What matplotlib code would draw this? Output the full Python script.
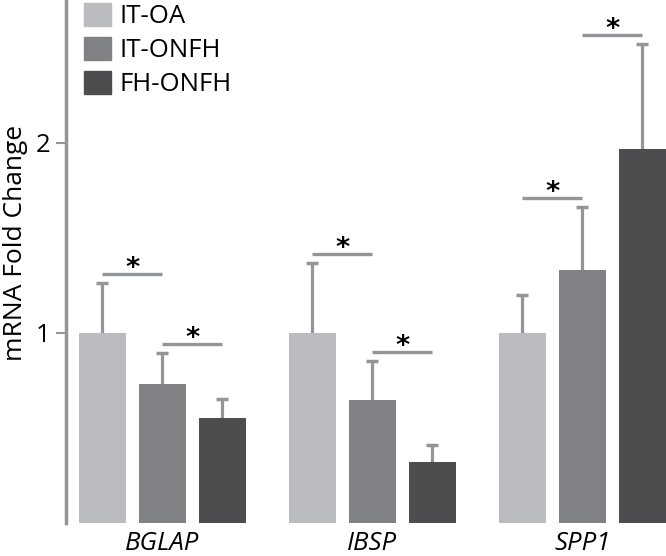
import numpy as np
import matplotlib.pyplot as plt
from matplotlib.patches import Patch

plt.rcParams['font.family'] = ['Open Sans', 'DejaVu Sans']

genes = ["BGLAP", "IBSP", "SPP1"]
groups = ["IT-OA", "IT-ONFH", "FH-ONFH"]
colors = ["#bbbcc0", "#808184", "#4d4d4f"]

# mean fold change and upper error per group (rows) and gene (cols)
means = [[1.00, 1.00, 1.00],
         [0.73, 0.645, 1.33],
         [0.55, 0.32, 1.965]]
errors = [[0.26, 0.365, 0.20],
          [0.165, 0.205, 0.33],
          [0.10, 0.09, 0.555]]

# significance brackets: (gene index, group a, group b)
sig_pairs = [(0, 0, 1), (0, 1, 2), (1, 0, 1), (1, 1, 2), (2, 1, 2), (2, 0, 1)]

grey = "#939598"
step = 0.2857
width = 0.224

fig = plt.figure(figsize=(6.66, 5.56), dpi=100)
ax = fig.add_axes([66/666, 33.3/556, 600/666, 522.7/556])

x = np.arange(len(genes))
for k in range(len(groups)):
    pos = x + (k - 1) * step
    m = np.array(means[k])
    e = np.array(errors[k])
    ax.bar(pos, m, width, color=colors[k], label=groups[k], zorder=2)
    # upper error bar only
    ax.vlines(pos, m, m + e, color=grey, lw=2.3, zorder=1)
    ax.plot(pos, m + e, ls='none', marker='_', ms=9, mew=2.5, color=grey, zorder=1)

for g, a, b in sig_pairs:
    top = max(means[a][g] + errors[a][g], means[b][g] + errors[b][g]) + 0.047
    xa = x[g] + (a - 1) * step
    xb = x[g] + (b - 1) * step
    ax.plot([xa, xb], [top, top], color=grey, lw=2.4, solid_capstyle='butt')
    ax.annotate("*", xy=((xa + xb) / 2, top), xytext=(0, -1.5),
                textcoords='offset points', ha='center', va='baseline',
                fontsize=19.5, fontweight='bold', family='DejaVu Sans')

ax.set_xlim(-0.459, 2.399)
ax.set_ylim(0, 2.751)
ax.set_yticks([1, 2])
ax.set_yticklabels(["1", "2"], fontsize=18.5)
ax.set_xticks(x)
ax.set_xticklabels(genes, fontsize=18.5, style='italic')
ax.tick_params(axis='x', length=0, pad=6)
ax.tick_params(axis='y', length=7, width=1.5, color=grey, pad=4)

for s in ['top', 'right', 'bottom']:
    ax.spines[s].set_visible(False)
ax.spines['left'].set_color(grey)
ax.spines['left'].set_linewidth(2.5)

ax.set_ylabel("mRNA Fold Change", fontsize=19)
ax.yaxis.set_label_coords(-0.063, 0.535)

handles = [Patch(color=c) for c in colors]
ax.legend(handles, groups, loc='upper left', bbox_to_anchor=(84/666, 1 - 3/556),
          bbox_transform=fig.transFigure, frameon=False, fontsize=18.5,
          handlelength=1.05, handleheight=1.0, labelspacing=0.3,
          handletextpad=0.35, borderpad=0, borderaxespad=0)

fig.savefig("out.png", dpi=100)
